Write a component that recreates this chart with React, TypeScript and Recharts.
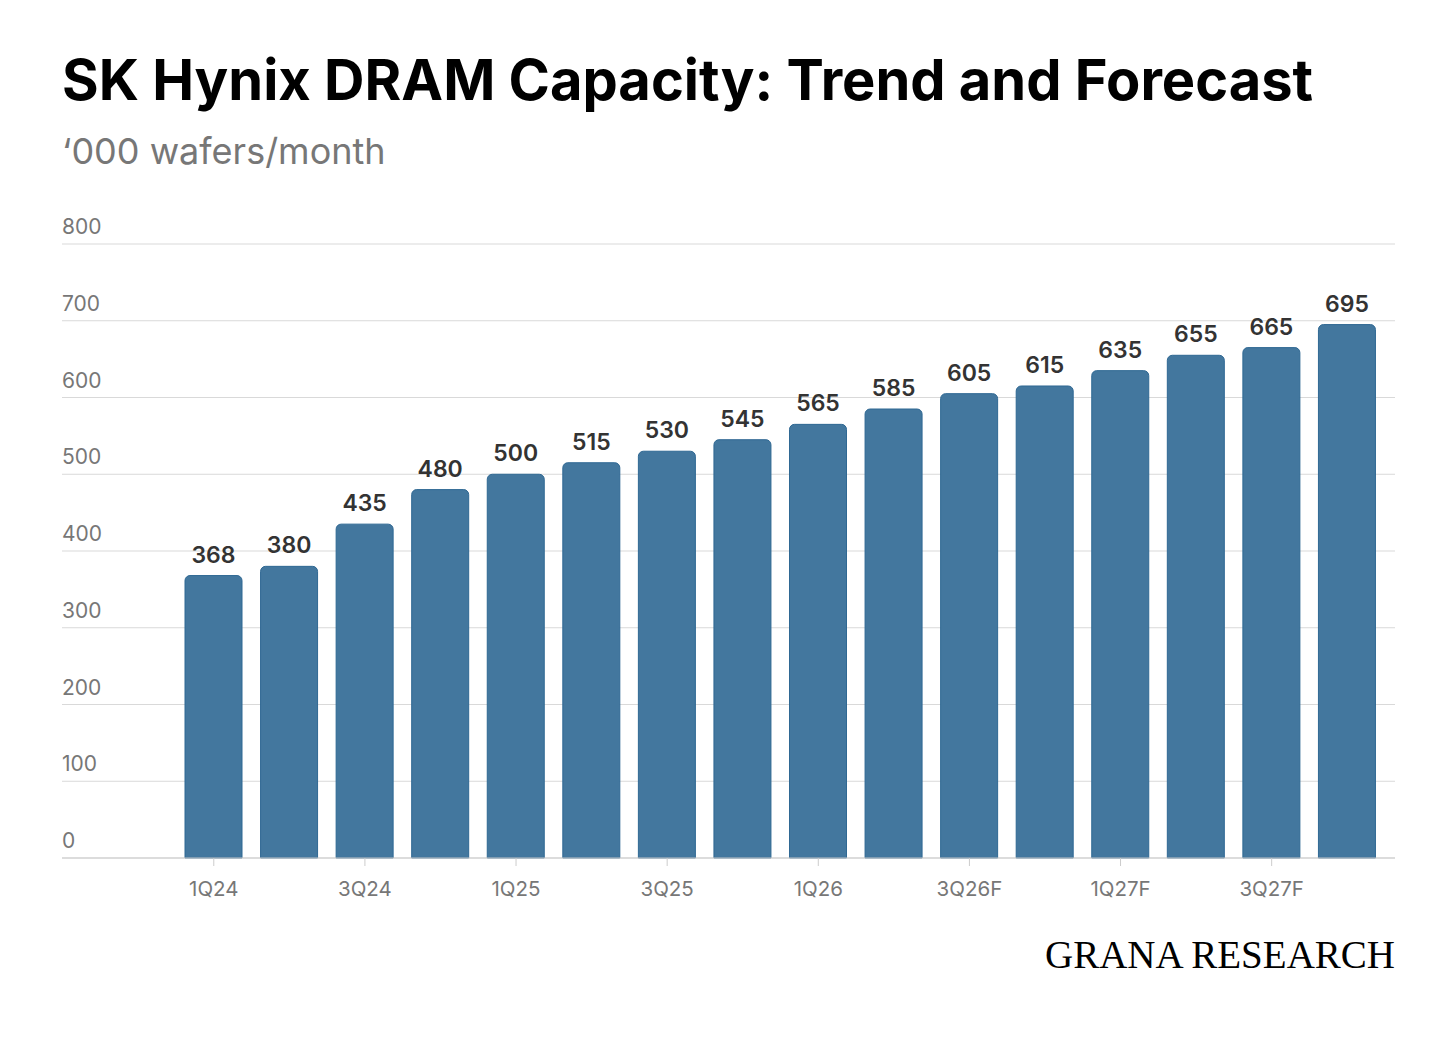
import React from 'react';
import { BarChart, Bar, XAxis, YAxis, CartesianGrid, LabelList } from 'recharts';

const quarters = [
  '1Q24', '2Q24', '3Q24', '4Q24',
  '1Q25', '2Q25', '3Q25', '4Q25',
  '1Q26', '2Q26F', '3Q26F', '4Q26F',
  '1Q27F', '2Q27F', '3Q27F', '4Q27F',
];
const capacity = [368, 380, 435, 480, 500, 515, 530, 545, 565, 585, 605, 615, 635, 655, 665, 695];
const yTicks = [0, 100, 200, 300, 400, 500, 600, 700, 800];

const data = quarters.map((q, i) => ({ quarter: q, value: capacity[i] }));

const FONT = 'Inter, "Noto Sans", sans-serif';

function YTick(props: any) {
  const { y, payload } = props;
  return (
    <text x={54} y={y - 10} fill="#777" fontSize={21} fontFamily={FONT}>
      {payload.value}
    </text>
  );
}

function XTick(props: any) {
  const { x, y, payload } = props;
  return (
    <text x={x} y={y + 28} fill="#777" fontSize={20.5} fontFamily={FONT} textAnchor="middle">
      {payload.value}
    </text>
  );
}

function BarValue(props: any) {
  const { x, y, width, value } = props;
  return (
    <text
      x={x + width / 2}
      y={y - 13}
      fill="#333"
      fontSize={23}
      fontWeight={600}
      fontFamily={FONT}
      textAnchor="middle"
    >
      {value}
    </text>
  );
}

export default function App() {
  return (
    <div style={{ position: 'relative', width: 1440, height: 1020, background: '#fff' }}>
      <svg
        width={1440}
        height={1020}
        style={{ position: 'absolute', left: 0, top: 0, pointerEvents: 'none' }}
      >
        <text x={54} y={92} fontSize={56} fontWeight={700} fontFamily={FONT} fill="#000">
          SK Hynix DRAM Capacity: Trend and Forecast
        </text>
        <text x={54} y={156} fontSize={36} fontFamily={FONT} fill="#777">
          ‘000 wafers/month
        </text>
        <text
          x={1387}
          y={960}
          fontSize={39}
          fontFamily='"Liberation Serif", "Times New Roman", serif'
          fill="#000"
          textAnchor="end"
        >
          GRANA RESEARCH
        </text>
      </svg>
      <BarChart
        width={1440}
        height={1000}
        data={data}
        margin={{ top: 236, right: 53, left: 53, bottom: 110 }}
      >
        <CartesianGrid vertical={false} stroke="#d9d9d9" />
        <XAxis
          dataKey="quarter"
          interval={1}
          height={40}
          padding={{ left: 114, right: 10 }}
          axisLine={{ stroke: '#cccccc' }}
          tickLine={{ stroke: '#cccccc' }}
          tickSize={8}
          tick={<XTick />}
        />
        <YAxis
          width={1}
          domain={[0, 800]}
          ticks={yTicks}
          interval={0}
          axisLine={false}
          tickLine={false}
          tick={<YTick />}
        />
        <Bar
          dataKey="value"
          fill="#43779e"
          stroke="#2f6893"
          strokeWidth={1}
          barSize={57}
          radius={[5, 5, 0, 0]}
          isAnimationActive={false}
        >
          <LabelList dataKey="value" content={<BarValue />} />
        </Bar>
      </BarChart>
    </div>
  );
}
